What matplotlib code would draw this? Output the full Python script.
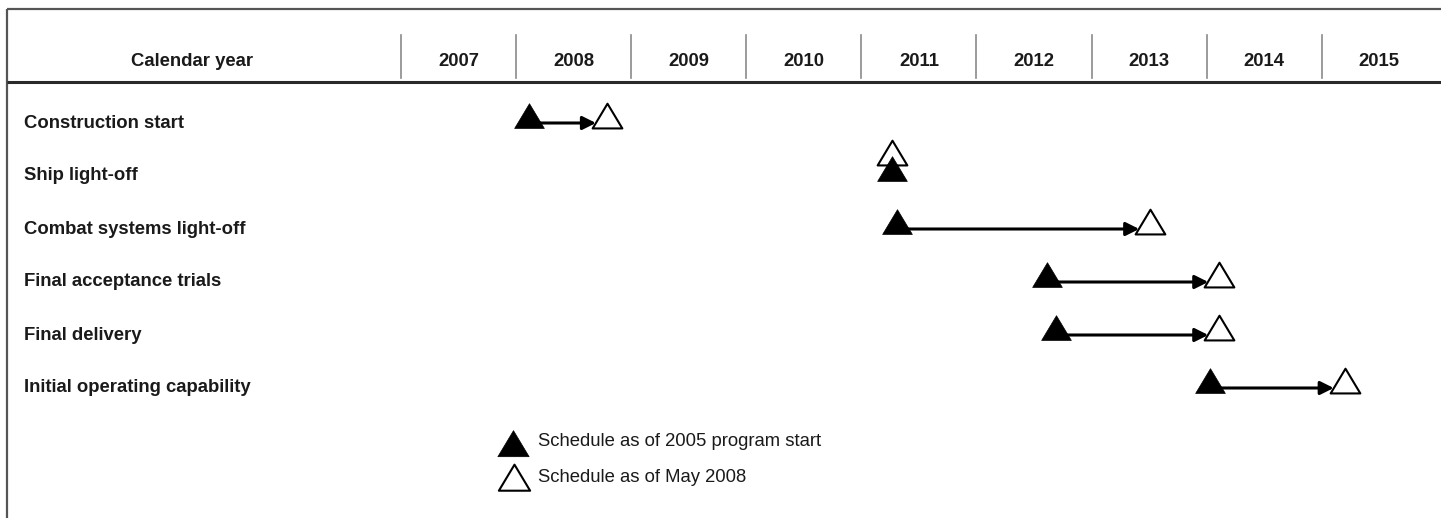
import matplotlib
matplotlib.use("Agg")
import matplotlib.pyplot as plt
from matplotlib.path import Path

plt.rcParams['font.family'] = ['Liberation Sans', 'DejaVu Sans']

# milestones and schedule dates (fractional calendar year)
milestones = ["Construction start", "Ship light-off", "Combat systems light-off",
              "Final acceptance trials", "Final delivery", "Initial operating capability"]
plan_2005 = [2008.11, 2011.27, 2011.31, 2012.61, 2012.69, 2014.03]
plan_2008 = [2008.79, 2011.27, 2013.51, 2014.11, 2014.11, 2015.20]
years = [2007, 2008, 2009, 2010, 2011, 2012, 2013, 2014, 2015]

W, H = 1441, 518
X0, YW = 401, 115.1          # pixel of 2007 boundary, pixel width of one year


def yr(px):
    # pixel column -> year coordinate
    return years[0] + (px - X0) / YW


fig = plt.figure(figsize=(W / 100, H / 100), dpi=100)
ax = fig.add_axes([0, 0, 1, 1])
ax.set_xlim(yr(0), yr(W))
ax.set_ylim(H, 0)
ax.axis('off')

txt = '#1a1a1a'
fs = 13.3
ms = 28.5

# triangle with its origin a bit above the base (arrow runs there)
tri = Path([(0, 1.333), (-1, -0.333), (1, -0.333), (0, 1.333)],
           [Path.MOVETO, Path.LINETO, Path.LINETO, Path.CLOSEPOLY])

# frame and header
ax.plot([yr(7), yr(W)], [9, 9], color='#555555', lw=1.6, solid_capstyle='butt')
ax.plot([yr(7), yr(7)], [9, H], color='#555555', lw=1.6, solid_capstyle='butt')
ax.plot([yr(7), yr(W)], [82, 82], color='#2a2a2a', lw=2.2, solid_capstyle='butt')
for y in years:
    ax.plot([y, y], [35, 78], color='#8a8a8a', lw=1.2)
    ax.text(y + 0.5, 61, str(y), ha='center', va='center', fontsize=fs,
            fontweight='bold', color=txt)
ax.text(yr(192), 61, "Calendar year", ha='center', va='center', fontsize=fs,
        fontweight='bold', color=txt)

rows = [123 + 53 * i for i in range(len(milestones))]
for name, a, b, y in zip(milestones, plan_2005, plan_2008, rows):
    ax.text(yr(24), y, name, ha='left', va='center', fontsize=fs,
            fontweight='bold', color=txt)
    if abs(a - b) < 0.01:
        # same date: stack the May 2008 marker above
        ax.plot(b, y - 16, marker=tri, ms=ms, mfc='white', mec='black', mew=1.5,
                ls='none', zorder=3)
        ax.plot(a, y, marker=tri, ms=ms, mfc='black', mec='black', mew=0.5,
                ls='none', zorder=4)
        continue
    ax.annotate('', xy=(b, y), xytext=(a, y),
                arrowprops=dict(arrowstyle='-|>', color='black', lw=2.2,
                                shrinkA=0, shrinkB=8, mutation_scale=20),
                zorder=2)
    ax.plot(a, y, marker=tri, ms=ms, mfc='black', mec='black', mew=0.5,
            ls='none', zorder=4)
    ax.plot(b, y, marker=tri, ms=ms, mfc='white', mec='black', mew=1.5,
            ls='none', zorder=4)

# legend
ax.plot(yr(513), 451, marker=tri, ms=30, mfc='black', mec='black', mew=0.5, ls='none')
ax.plot(yr(514), 485, marker=tri, ms=30, mfc='white', mec='black', mew=1.5, ls='none')
ax.text(yr(538), 442, "Schedule as of 2005 program start", ha='left', va='center',
        fontsize=fs, color=txt)
ax.text(yr(538), 477, "Schedule as of May 2008", ha='left', va='center',
        fontsize=fs, color=txt)

fig.savefig("out.png", dpi=100)
